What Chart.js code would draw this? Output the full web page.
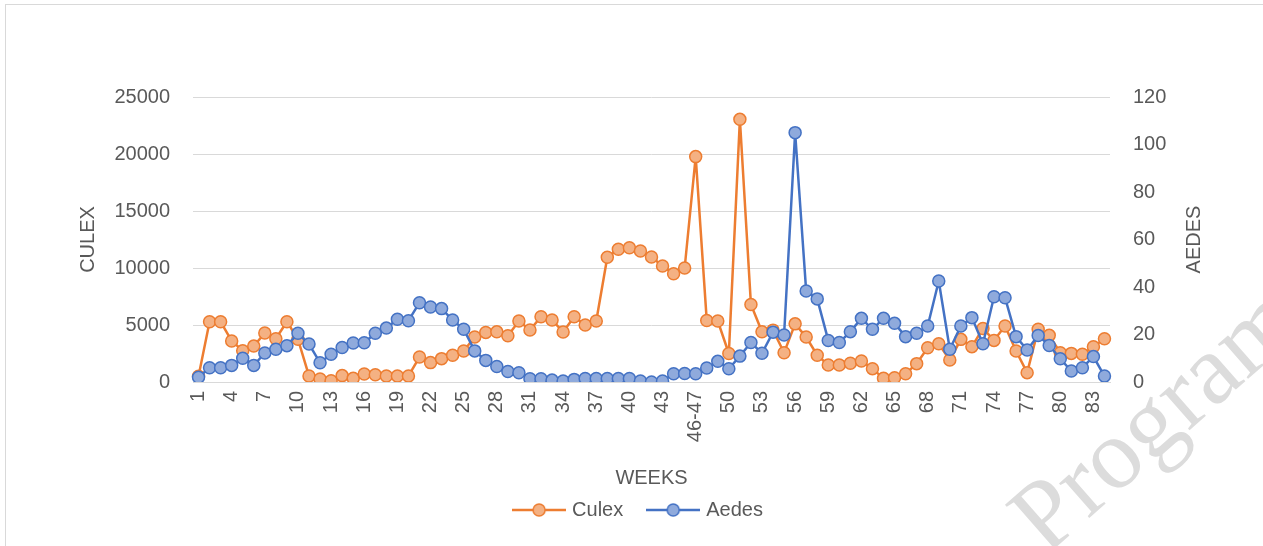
<!DOCTYPE html>
<html>
<head>
<meta charset="utf-8">
<script src="https://cdn.jsdelivr.net/npm/chart.js@4.4.1/dist/chart.umd.min.js"></script>
<style>
  html, body { margin: 0; padding: 0; background: #ffffff; }
  #wrap { width: 1263px; height: 546px; position: relative; }
</style>
</head>
<body>
<div id="wrap"><canvas id="c" width="1263" height="546"></canvas></div>
<script>
const weeks = [
  "1","2","3","4","5","6","7","8","9","10","11","12","13","14","15","16","17","18","19","20",
  "21","22","23","24","25","26","27","28","29","30","31","32","33","34","35","36","37","38","39","40",
  "41","42","43","44","45","46-47","48","49","50","51","52","53","54","55","56","57","58","59","60",
  "61","62","63","64","65","66","67","68","69","70","71","72","73","74","75","76","77","78","79","80",
  "81","82","83","84"
];
const culex = [
  500, 5290, 5290, 3600, 2750, 3150, 4300, 3800, 5290, 3750,
  530, 260, 110, 560, 320, 700, 630, 530, 530, 530,
  2190, 1700, 2050, 2340, 2720, 3950, 4350, 4400, 4050, 5350,
  4560, 5730, 5440, 4390, 5730, 5000, 5350, 10950, 11640, 11780,
  11490, 10960, 10175, 9500, 10000, 19770, 5400, 5350, 2500, 23040,
  6800, 4400, 4550, 2570, 5100, 3940, 2350, 1490, 1490, 1640,
  1840, 1170, 320, 380, 730, 1610, 3010, 3360, 1930, 3740,
  3100, 4700, 3650, 4910, 2720, 820, 4620, 4090, 2570, 2510,
  2430, 3100, 3800
];
const aedes = [
  2, 6, 6, 7, 10, 7, 12.2, 13.8, 15.3, 20.5,
  16, 8.1, 11.7, 14.5, 16.4, 16.5, 20.5, 22.7, 26.4, 25.8,
  33.4, 31.6, 30.9, 26.1, 22.2, 13.1, 9.1, 6.5, 4.4, 3.9,
  1.4, 1.4, 0.8, 0.4, 1.1, 1.5, 1.5, 1.5, 1.5, 1.5,
  0.4, 0, 0.4, 3.5, 3.6, 3.5, 5.9, 8.7, 5.6, 10.9,
  16.6, 12.1, 21, 19.8, 105, 38.3, 35, 17.5, 16.6, 21.2,
  26.8, 22.2, 26.8, 24.7, 19.1, 20.5, 23.6, 42.5, 13.8, 23.6,
  27.1, 16.1, 35.9, 35.5, 19.1, 13.5, 19.6, 15.4, 9.8, 4.6,
  6.0, 10.7, 2.5
];
const culexTicks = [0, 5000, 10000, 15000, 20000, 25000];
const aedesTicks = [0, 20, 40, 60, 80, 100, 120];

const TEXT = '#595959';
const GRID = '#d9d9d9';
const FONT = 'Liberation Sans';
const ORANGE = '#ED7D31', ORANGE_FILL = '#F4B183';
const BLUE = '#4472C4', BLUE_FILL = '#8FAADC';

function legendIcon(line, fill) {
  const cv = document.createElement('canvas');
  cv.width = 54; cv.height = 16;
  const g = cv.getContext('2d');
  g.strokeStyle = line; g.lineWidth = 2.5;
  g.beginPath(); g.moveTo(0, 8); g.lineTo(54, 8); g.stroke();
  g.beginPath(); g.arc(27, 8, 6, 0, Math.PI * 2);
  g.fillStyle = fill; g.fill();
  g.lineWidth = 1.5; g.stroke();
  return cv;
}
const icons = [legendIcon(ORANGE, ORANGE_FILL), legendIcon(BLUE, BLUE_FILL)];

const decor = {
  id: 'decor',
  beforeDraw(chart) {
    const ctx = chart.ctx;
    ctx.save();
    ctx.fillStyle = '#ffffff';
    ctx.fillRect(0, 0, chart.width, chart.height);
    ctx.strokeStyle = GRID; ctx.lineWidth = 1;
    ctx.strokeRect(5.5, 4.5, chart.width + 20, chart.height + 20);
    // watermark
    ctx.fillStyle = '#dcdcdc';
    ctx.font = '100px "Liberation Serif"';
    ctx.textAlign = 'left'; ctx.textBaseline = 'alphabetic';
    ctx.translate(1046, 556);
    ctx.rotate(-0.72);
    ctx.fillText('Program', 0, 0);
    ctx.restore();
  },
  afterDraw(chart) {
    const ctx = chart.ctx;
    const area = chart.chartArea;
    ctx.save();
    ctx.fillStyle = TEXT;
    ctx.font = '20px "' + FONT + '"';
    ctx.textAlign = 'center'; ctx.textBaseline = 'middle';
    ctx.translate(1194, (area.top + area.bottom) / 2);
    ctx.rotate(-Math.PI / 2);
    ctx.fillText(chart.options.scales.y1.title.text, 0, 0);
    ctx.restore();
  }
};

new Chart(document.getElementById('c'), {
  type: 'line',
  data: {
    labels: weeks,
    datasets: [
      {
        label: 'Culex', data: culex, yAxisID: 'y', order: 1,
        borderColor: ORANGE, backgroundColor: ORANGE_FILL, borderWidth: 2.5,
        pointRadius: 6, pointBorderWidth: 1.5, pointBackgroundColor: ORANGE_FILL, pointBorderColor: ORANGE,
        pointHoverRadius: 6, tension: 0, fill: false
      },
      {
        label: 'Aedes', data: aedes, yAxisID: 'y1', order: 0,
        borderColor: BLUE, backgroundColor: BLUE_FILL, borderWidth: 2.5,
        pointRadius: 6, pointBorderWidth: 1.5, pointBackgroundColor: BLUE_FILL, pointBorderColor: BLUE,
        pointHoverRadius: 6, tension: 0, fill: false
      }
    ]
  },
  options: {
    responsive: false,
    animation: false,
    events: [],
    layout: { padding: { top: 97, left: 16, right: 0, bottom: 16 } },
    plugins: {
      tooltip: { enabled: false },
      legend: {
        position: 'bottom',
        labels: {
          color: TEXT, font: { family: FONT, size: 20 },
          usePointStyle: true, pointStyleWidth: 46, padding: 27,
          generateLabels(chart) {
            return chart.data.datasets.map((ds, i) => ({
              text: ds.label, fillStyle: ds.backgroundColor, strokeStyle: ds.borderColor,
              lineWidth: 0, pointStyle: icons[i], datasetIndex: i, hidden: false, fontColor: TEXT
            }));
          }
        }
      }
    },
    scales: {
      x: {
        type: 'category',
        offset: true,
        grid: { display: false, drawTicks: false },
        border: { display: true, color: GRID, width: 1 },
        ticks: {
          color: TEXT, font: { family: FONT, size: 20 },
          autoSkip: false, minRotation: 90, maxRotation: 90, padding: 9,
          callback(v, i) { return i % 3 === 0 ? weeks[i] : ''; }
        },
        title: { display: true, text: 'WEEKS', color: TEXT, font: { family: FONT, size: 20 }, padding: { top: 0, bottom: -17 } },
        afterFit(s) { s.height = 91; }
      },
      y: {
        position: 'left',
        min: 0, max: 25000,
        afterBuildTicks(s) { s.ticks = culexTicks.map(v => ({ value: v })); },
        grid: { color: GRID, lineWidth: 1, drawTicks: false },
        border: { display: false },
        ticks: { color: TEXT, font: { family: FONT, size: 20 }, padding: 23, callback(v) { return String(v); } },
        title: { display: true, text: 'CULEX', color: TEXT, font: { family: FONT, size: 20 }, padding: { top: 60, bottom: 0 } },
        afterFit(s) { s.width = 177; }
      },
      y1: {
        position: 'right',
        min: 0, max: 120,
        afterBuildTicks(s) { s.ticks = aedesTicks.map(v => ({ value: v })); },
        grid: { display: false, drawTicks: false },
        border: { display: false },
        ticks: { color: TEXT, font: { family: FONT, size: 20 }, padding: 23, callback(v) { return String(v); } },
        title: { display: false, text: 'AEDES' },
        afterFit(s) { s.width = 153; }
      }
    }
  },
  plugins: [decor]
});
</script>
</body>
</html>
